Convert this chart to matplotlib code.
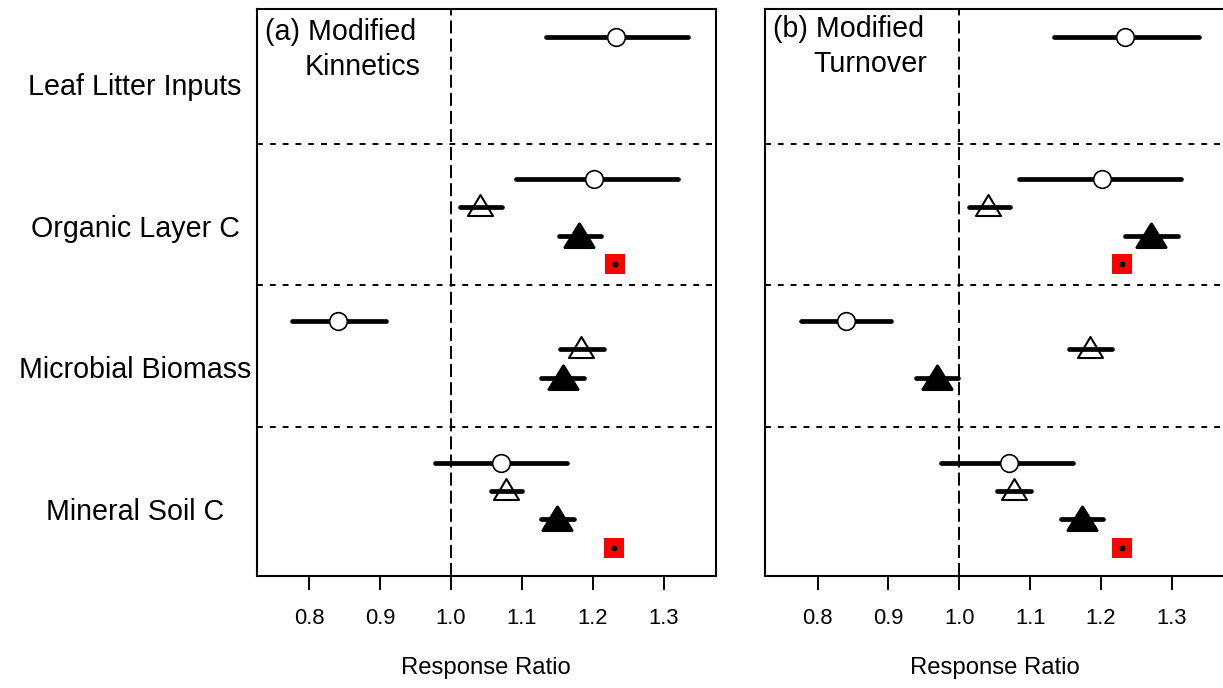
import numpy as np
import matplotlib
matplotlib.use("Agg")
import matplotlib.pyplot as plt
import matplotlib.transforms as mtransforms
from matplotlib.path import Path

plt.rcParams['font.family'] = ['Liberation Sans', 'DejaVu Sans']

nan = np.nan

categories = ["Leaf Litter Inputs", "Organic Layer C", "Microbial Biomass", "Mineral Soil C"]
ticks = [0.8, 0.9, 1.0, 1.1, 1.2, 1.3]
tick_labels = ["0.8", "0.9", "1.0", "1.1", "1.2", "1.3"]

# panel (a) Modified Kinnetics
circle_a = [1.233, 1.202, 0.840, 1.070]
circle_a_lo = [1.134, 1.091, 0.776, 0.977]
circle_a_hi = [1.334, 1.320, 0.908, 1.164]
open_a = [nan, 1.041, 1.184, 1.077]
open_a_lo = [nan, 1.013, 1.154, 1.056]
open_a_hi = [nan, 1.072, 1.216, 1.100]
filled_a = [nan, 1.181, 1.158, 1.150]
filled_a_lo = [nan, 1.152, 1.127, 1.127]
filled_a_hi = [nan, 1.212, 1.188, 1.173]
red_a = [nan, 1.231, nan, 1.230]

# panel (b) Modified Turnover
circle_b = [1.233, 1.201, 0.840, 1.070]
circle_b_lo = [1.134, 1.084, 0.776, 0.974]
circle_b_hi = [1.338, 1.313, 0.904, 1.160]
open_b = [nan, 1.041, 1.185, 1.077]
open_b_lo = [nan, 1.013, 1.154, 1.053]
open_b_hi = [nan, 1.072, 1.216, 1.101]
filled_b = [nan, 1.270, 0.968, 1.173]
filled_b_lo = [nan, 1.233, 0.939, 1.144]
filled_b_hi = [nan, 1.308, 0.998, 1.202]
red_b = [nan, 1.229, nan, 1.229]

W, H = 1223, 688
fig = plt.figure(figsize=(W / 100, H / 100), dpi=100)

# triangles with the bar through the centroid
open_tri = Path([(0, 12.5), (-12.5, -8.5), (12.5, -8.5), (0, 12.5)],
                [Path.MOVETO, Path.LINETO, Path.LINETO, Path.CLOSEPOLY])
filled_tri = Path([(0, 12.5), (-14.5, -11), (14.5, -11), (0, 12.5)],
                  [Path.MOVETO, Path.LINETO, Path.LINETO, Path.CLOSEPOLY])

bar_lw = 3.4


def draw_bar(ax, y, lo, hi):
    if np.isnan(lo):
        return
    ax.plot([lo, hi], [y, y], color='black', lw=bar_lw,
            solid_capstyle='round', zorder=3)


def draw_panel(ax, circ, clo, chi, op, olo, ohi, fi, flo, fhi, red, line1, line2, ty):
    for k in range(len(categories)):
        y0 = 5 * k
        # open triangle
        if not np.isnan(op[k]):
            ax.plot(op[k], y0 + 1, marker=open_tri, ms=18, mfc='white',
                    mec='black', mew=1.5, ls='none', zorder=2)
        draw_bar(ax, y0 + 1, olo[k], ohi[k])
        # filled triangle
        if not np.isnan(fi[k]):
            ax.plot(fi[k], y0 + 2, marker=filled_tri, ms=20.9, mfc='black',
                    mec='black', mew=2.2, ls='none', zorder=2)
        draw_bar(ax, y0 + 2, flo[k], fhi[k])
        # circle
        draw_bar(ax, y0, clo[k], chi[k])
        ax.plot(circ[k], y0, marker='o', ms=12.7, mfc='white', mec='black',
                mew=1.2, ls='none', zorder=4)
        # red square with dot
        if not np.isnan(red[k]):
            ax.plot(red[k], y0 + 3, marker='s', ms=13.7, mfc='red', mew=0,
                    ls='none', zorder=4)
            ax.plot(red[k], y0 + 3, marker='o', ms=4.3, mfc='black', mew=0,
                    ls='none', zorder=5)

    ax.axvline(1.0, color='black', lw=1.4, ls=(0, (6.7, 2.6)), zorder=1)
    for ys in [3.75, 8.75, 13.75]:
        ax.axhline(ys, color='black', lw=1.4, ls=(0, (3, 3.6)), zorder=1)

    ax.set_xlim(0.7258, 1.3738)
    ax.set_ylim(19, -1)
    ax.set_xticks(ticks)
    ax.set_xticklabels(tick_labels, fontsize=15.8)
    ax.tick_params(axis='x', direction='out', length=10, width=1.4, pad=13.2)
    ax.set_yticks([])
    for sp in ax.spines.values():
        sp.set_linewidth(1.5)

    ax.text(0.7375, ty[0], line1, fontsize=20.6, ha='left', va='baseline')
    ax.text(0.7935, ty[1], line2, fontsize=20.6, ha='left', va='baseline')
    ax.text(0.5, -0.1728, "Response Ratio", fontsize=17.2, ha='center',
            va='baseline', transform=ax.transAxes)


ax_a = fig.add_axes([256.7 / W, (H - 576) / H, 459.3 / W, 567 / H])
ax_b = fig.add_axes([765 / W, (H - 576) / H, 459.3 / W, 567 / H])

draw_panel(ax_a, circle_a, circle_a_lo, circle_a_hi, open_a, open_a_lo, open_a_hi,
           filled_a, filled_a_lo, filled_a_hi, red_a,
           "(a) Modified", "Kinnetics", (0.09, 1.33))
draw_panel(ax_b, circle_b, circle_b_lo, circle_b_hi, open_b, open_b_lo, open_b_hi,
           filled_b, filled_b_lo, filled_b_hi, red_b,
           "(b) Modified", "Turnover", (-0.02, 1.21))

# row labels to the left of panel (a)
trans = mtransforms.blended_transform_factory(fig.transFigure, ax_a.transData)
for k, name in enumerate(categories):
    fig.text(135 / W, 2.03 + 5 * k, name, fontsize=20.6, ha='center',
             va='baseline', transform=trans)

fig.savefig("out.png", dpi=100)
